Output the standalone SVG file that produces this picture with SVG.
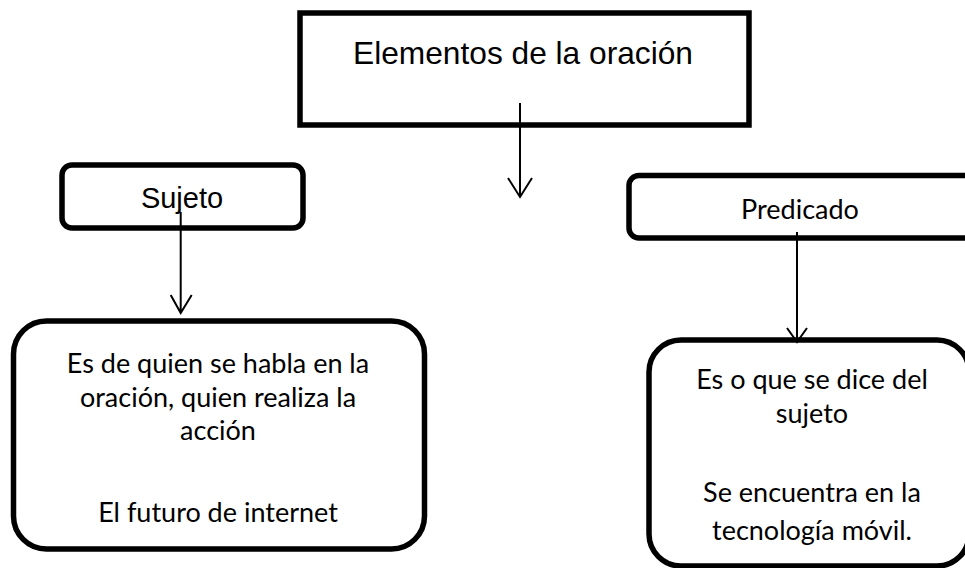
<svg xmlns="http://www.w3.org/2000/svg" width="965" height="568" viewBox="0 0 965 568">
<style>
.box{fill:#fff;stroke:#000;stroke-width:5.5}
.edge{fill:none;stroke:#000;stroke-width:2}
.arial{font-family:"Liberation Sans",Arial,sans-serif;fill:#000;text-anchor:middle}
.cal{font-family:Lato,"Open Sans",sans-serif;fill:#000;text-anchor:middle;font-size:27px}
</style>
<rect width="965" height="568" fill="#fff"/>
<g id="n-elementos">
<rect class="box" x="300" y="13" width="449" height="112"/>
<text class="arial" x="523" y="64" font-size="31.7">Elementos de la oración</text>
</g>
<g id="n-sujeto">
<rect class="box" x="62" y="165" width="241" height="63" rx="10"/>
<text class="arial" x="182" y="208" font-size="29">Sujeto</text>
</g>
<g id="n-predicado">
<rect class="box" x="629" y="175.5" width="345" height="62.5" rx="10"/>
<text class="cal" x="800" y="219">Predicado</text>
</g>
<g id="n-sujeto-def">
<rect class="box" x="13.5" y="321" width="411" height="228" rx="33"/>
<text class="cal" x="218" y="373">Es de quien se habla en la</text>
<text class="cal" x="218" y="407">oración, quien realiza la</text>
<text class="cal" x="218" y="440">acción</text>
<text class="cal" x="218" y="522">El futuro de internet</text>
</g>
<g id="n-predicado-def">
<rect class="box" x="649" y="340" width="320" height="226" rx="32"/>
<text class="cal" x="812" y="389">Es o que se dice del</text>
<text class="cal" x="812" y="423">sujeto</text>
<text class="cal" x="812" y="502">Se encuentra en la</text>
<text class="cal" x="812" y="540">tecnología móvil.</text>
</g>
<g id="connectors">
<path class="edge" d="M520 103V197M508 178L520 197L532 178"/>
<path class="edge" d="M180.7 212V313M170.7 295L180.7 313L191.7 295"/>
<path class="edge" d="M797 232V342M787 328L797 342L807 328"/>
</g>
</svg>
